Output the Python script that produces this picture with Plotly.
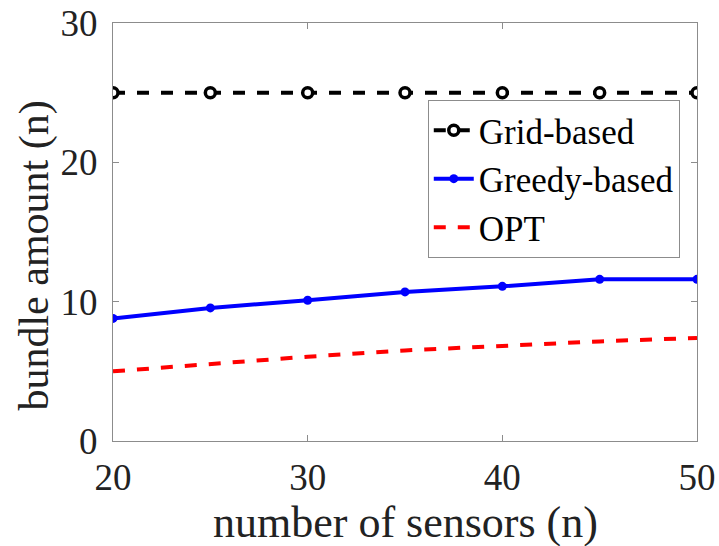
import plotly.graph_objects as go

# Number of sensors deployed
sensors = [20, 25, 30, 35, 40, 45, 50]

# Bundle amount for each strategy
grid_based = [25, 25, 25, 25, 25, 25, 25]
greedy_based = [8.8, 9.55, 10.1, 10.7, 11.1, 11.6, 11.6]
opt = [5.0, 5.55, 6.05, 6.5, 6.85, 7.15, 7.4]

x_ticks = [20, 30, 40, 50]
y_ticks = [0, 10, 20, 30]

x_title = "number of sensors (n)"
y_title = "bundle amount (n)"

FONT = "Liberation Serif"
TEXT = "#222222"

fig = go.Figure()

fig.add_trace(go.Scatter(
    x=sensors, y=grid_based, name="Grid-based",
    mode="lines+markers",
    line=dict(color="black", width=4, dash="dash"),
    marker=dict(symbol="circle", size=10, color="white",
                line=dict(color="black", width=3.5)),
))
fig.add_trace(go.Scatter(
    x=sensors, y=greedy_based, name="Greedy-based",
    mode="lines+markers",
    line=dict(color="#0000ff", width=4),
    marker=dict(symbol="circle", size=9, color="#0000ff"),
))
fig.add_trace(go.Scatter(
    x=sensors, y=opt, name="OPT",
    mode="lines",
    line=dict(color="#ff0000", width=4, dash="dash"),
))

axis_common = dict(
    showline=True, linecolor="#8c8c8c", linewidth=1, mirror="ticks",
    ticks="inside", ticklen=6, tickcolor="#8c8c8c", tickwidth=1,
    showgrid=False, zeroline=False, automargin=False,
    tickfont=dict(family=FONT, size=37, color=TEXT),
)

fig.update_xaxes(range=[20, 50], tickvals=x_ticks, ticklabelstandoff=4,
                 **axis_common)
fig.update_yaxes(range=[0, 30], tickvals=y_ticks, ticklabelstandoff=7,
                 **axis_common)

# Axis titles placed as paper-anchored annotations
fig.add_annotation(
    text=x_title, xref="paper", yref="paper", x=0.5, y=-0.195,
    xanchor="center", yanchor="middle", showarrow=False,
    font=dict(family=FONT, size=44, color=TEXT),
)
fig.add_annotation(
    text=y_title, xref="paper", yref="paper", x=-0.134, y=0.443,
    xanchor="center", yanchor="middle", textangle=-90, showarrow=False,
    font=dict(family=FONT, size=42, color=TEXT),
)

fig.update_layout(
    width=719, height=546,
    margin=dict(l=113, r=22, t=23, b=105),
    paper_bgcolor="white", plot_bgcolor="white",
    showlegend=True,
    legend=dict(
        x=0.539, y=0.816, xanchor="left", yanchor="top",
        bgcolor="white", bordercolor="#8c8c8c", borderwidth=1,
        font=dict(family=FONT, size=35, color="black"),
        itemwidth=40, tracegroupgap=0,
    ),
)

fig.write_html("out.html")
